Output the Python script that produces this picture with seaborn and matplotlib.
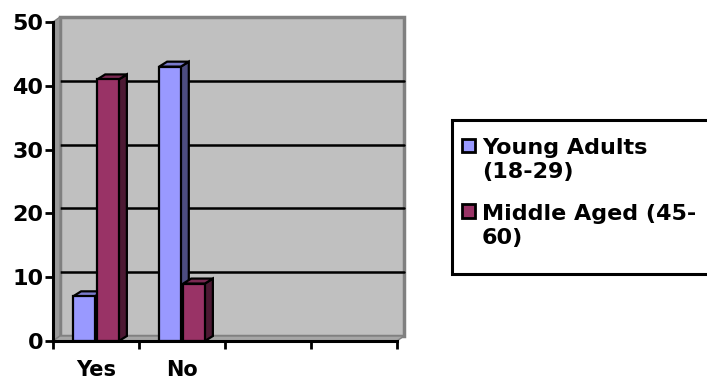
import numpy as np
import pandas as pd
import matplotlib
matplotlib.use("Agg")
import matplotlib.pyplot as plt
import seaborn as sns
from matplotlib.patches import Polygon, Rectangle, Patch
from matplotlib.lines import Line2D
from matplotlib.transforms import IdentityTransform
from matplotlib.legend_handler import HandlerPatch

# ---- data -------------------------------------------------------------
categories = ["Yes", "No"]
series_names = ["Young Adults\n(18-29)", "Middle Aged (45-\n60)"]
young_adults = [7, 43]
middle_aged = [41, 9]
y_ticks = [0, 10, 20, 30, 40, 50]
n_slots = 4  # category slots on the x axis (last two are empty)

colors = ["#9999FF", "#993366"]
side_colors = ["#4D4D80", "#4D1933"]
top_colors = ["#7A7ACC", "#7A2952"]

df = pd.DataFrame({
    "answer": categories * 2,
    "group": [series_names[0]] * len(categories) + [series_names[1]] * len(categories),
    "count": young_adults + middle_aged,
})

sns.set_theme(style="white")
plt.rcParams["font.family"] = ["DejaVu Sans"]
plt.rcParams["text.color"] = "black"

W, H = 707, 381
fig = plt.figure(figsize=(W / 100, H / 100), dpi=100)
fig.patch.set_facecolor("white")
ax = fig.add_axes([53 / W, 1 - 341 / H, (397 - 53) / W, (341 - 22) / H])
ax.set_facecolor("none")

sns.barplot(data=df, x="answer", y="count", hue="group", order=categories,
            hue_order=series_names, palette=colors, width=0.56, gap=0.1,
            edgecolor="black", linewidth=1.6, saturation=1, ax=ax, legend=False)
ax.set_xlim(-0.5, n_slots - 0.5)
ax.set_ylim(y_ticks[0], y_ticks[-1])
ax.set_xlabel("")
ax.set_ylabel("")

# ---- 3-D frame drawn in pixel space -----------------------------------
WDX, WDY = 7, 5      # wall depth
BDX, BDY = 8, 5      # bar depth
ident = IdentityTransform()
to_px = ax.transData.transform
x0, x1 = -0.5, n_slots - 0.5
y0, y1 = y_ticks[0], y_ticks[-1]


def px(x, y, dx=0, dy=0):
    p = to_px((x, y))
    return (p[0] + dx, p[1] + dy)


def add_poly(pts, fc, ec="none", lw=0, z=0):
    poly = Polygon(pts, closed=True, facecolor=fc, edgecolor=ec, linewidth=lw,
                   transform=ident, clip_on=False, zorder=z, joinstyle="miter")
    ax.add_artist(poly)


# back wall
add_poly([px(x0, y0, WDX, WDY), px(x1, y0, WDX, WDY),
          px(x1, y1, WDX, WDY), px(x0, y1, WDX, WDY)],
         "#C0C0C0", "#808080", 2.5, z=0.1)
# gridlines on the back wall
for v in y_ticks[1:-1]:
    a, b = px(x0, v, WDX, WDY), px(x1, v, WDX, WDY)
    ax.add_artist(Line2D([a[0], b[0]], [a[1], b[1]], color="black", lw=1.8,
                         transform=ident, clip_on=False, zorder=0.2))
# side wall
add_poly([px(x0, y0), px(x0, y1), px(x0, y1, WDX, WDY), px(x0, y0, WDX, WDY)],
         "#999999", "#808080", 1.0, z=0.3)
# floor
add_poly([px(x0, y0), px(x1, y0), px(x1, y0, WDX, WDY), px(x0, y0, WDX, WDY)],
         "#A6A6A6", "#808080", 1.0, z=0.3)

# ---- 3-D bar faces -----------------------------------------------------
bars = [p for p in ax.patches if isinstance(p, Rectangle)]
bars = [b for b in bars if b.get_height() > 0]
bars.sort(key=lambda b: b.get_x())
for i, b in enumerate(bars):
    s = 0 if np.allclose(b.get_facecolor()[:3], matplotlib.colors.to_rgb(colors[0]), atol=0.02) else 1
    bx0, bx1 = b.get_x(), b.get_x() + b.get_width()
    bh = b.get_height()
    base = 2 + 3 * i
    add_poly([px(bx1, 0), px(bx1, bh), px(bx1, bh, BDX, BDY), px(bx1, 0, BDX, BDY)],
             side_colors[s], "black", 1.6, z=base)
    add_poly([px(bx0, bh), px(bx1, bh), px(bx1, bh, BDX, BDY), px(bx0, bh, BDX, BDY)],
             top_colors[s], "black", 1.6, z=base + 1)
    b.set_zorder(base + 2)

# ---- axes, ticks -------------------------------------------------------
for side in ["top", "right"]:
    ax.spines[side].set_visible(False)
for side in ["left", "bottom"]:
    ax.spines[side].set_linewidth(2.2)
    ax.spines[side].set_color("black")
    ax.spines[side].set_zorder(50)

ax.set_yticks(y_ticks)
ax.set_yticklabels([str(v) for v in y_ticks], fontsize=16, fontweight="bold")
ax.tick_params(axis="y", direction="out", length=6, width=2, pad=1, color="black",
               left=True, labelcolor="black")

ax.set_xticks(np.arange(n_slots + 1) - 0.5)
ax.set_xticklabels([])
ax.tick_params(axis="x", which="major", direction="out", length=6, width=2,
               color="black", bottom=True)
ax.set_xticks(np.arange(len(categories)), minor=True)
ax.set_xticklabels(categories, minor=True, fontsize=15, fontweight="bold")
ax.tick_params(axis="x", which="minor", length=0, pad=14, labelcolor="black")
ax.grid(False)


# ---- legend ------------------------------------------------------------
class TopSquare(HandlerPatch):
    def __init__(self, shift, **kw):
        super().__init__(**kw)
        self.shift = shift

    def create_artists(self, legend, orig_handle, xdescent, ydescent, width,
                       height, fontsize, trans):
        r = Rectangle((-xdescent, -ydescent + self.shift * fontsize), width, height,
                      facecolor=orig_handle.get_facecolor(), edgecolor="black",
                      linewidth=2, transform=trans)
        return [r]


# legend frame in pixels from the top-left corner (runs past the right edge)
LEG_LEFT, LEG_TOP, LEG_BOTTOM, LEG_RIGHT = 452, 120, 274, 725
handles = [Patch(facecolor=c, edgecolor="black") for c in colors]
leg = fig.legend(handles, series_names, loc="upper left",
                 bbox_to_anchor=((LEG_LEFT + 1) / W, 1 - (LEG_TOP + 9) / H),
                 borderaxespad=0, labelcolor="black",
                 prop={"family": ["DejaVu Sans"], "weight": "bold", "size": 16},
                 handlelength=0.58, handleheight=0.58, handletextpad=0.3,
                 labelspacing=0.95, borderpad=0.42, frameon=False,
                 handler_map={Patch: TopSquare(0.68)})
for t in leg.get_texts():
    t.set_linespacing(1.26)

fig.add_artist(Rectangle((LEG_LEFT, H - LEG_BOTTOM), LEG_RIGHT - LEG_LEFT,
                         LEG_BOTTOM - LEG_TOP, facecolor="white", edgecolor="black",
                         linewidth=2.2, transform=ident, zorder=leg.get_zorder() - 0.5))

fig.savefig("out.png", dpi=100)
